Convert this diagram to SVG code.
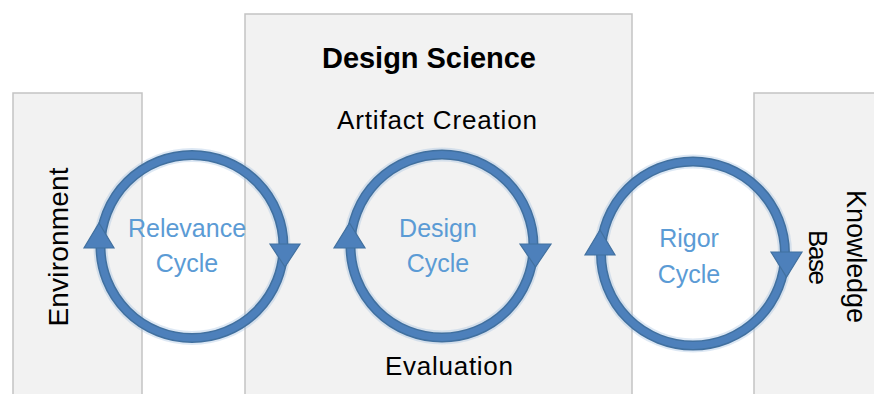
<svg xmlns="http://www.w3.org/2000/svg" width="874" height="394" viewBox="0 0 874 394">
<defs>
<style>
.panel{fill:#f2f2f2;stroke:#c3c3c3;stroke-width:1.5}
.ringo{fill:none;stroke:#41709f;stroke-width:10}
.ringi{fill:none;stroke:#4d80bb;stroke-width:7}
.glow{fill:none;stroke:#9dbde0;stroke-width:14;opacity:0.35}
.head{fill:#4d80bb;stroke:#41709f;stroke-width:1.2;stroke-linejoin:miter}
.lbl{font-family:"Liberation Sans",Arial,sans-serif;fill:#000}
.cyc{font-family:"Liberation Sans",Arial,sans-serif;fill:#5b9bd5;font-size:25px;text-anchor:middle}
</style>
</defs>
<g id="environment">
<rect class="panel" x="13" y="93" width="129" height="310"/>
<text class="lbl" font-size="28" text-anchor="middle" textLength="159" transform="translate(68,247) rotate(-90)">Environment</text>
</g>
<g id="design-science">
<rect class="panel" x="245" y="14" width="387" height="390"/>
<text class="lbl" font-size="29" font-weight="bold" text-anchor="middle" x="429" y="68" textLength="214">Design Science</text>
<text class="lbl" font-size="26" text-anchor="middle" x="437" y="129" textLength="200">Artifact Creation</text>
<text class="lbl" font-size="26" text-anchor="middle" x="449" y="375" textLength="128">Evaluation</text>
</g>
<g id="knowledge-base">
<rect class="panel" x="754" y="93" width="130" height="310"/>
<text class="lbl" font-size="27" text-anchor="middle" textLength="133" transform="translate(847,256.5) rotate(90)">Knowledge</text>
<text class="lbl" font-size="26" text-anchor="middle" textLength="55" transform="translate(809,257.5) rotate(90)">Base</text>
</g>
<g id="connectors">
<g id="relevance-cycle">
<circle class="glow" cx="192" cy="246.5" r="91.5"/>
<circle class="ringo" cx="192" cy="246.5" r="91.5"/>
<circle class="ringi" cx="192" cy="246.5" r="91.5"/>
<polygon class="head" points="99,223 114,248 84,248"/>
<polygon class="head" points="270,244 300,244 285,267"/>
</g>
<g id="design-cycle">
<circle class="glow" cx="442" cy="246" r="91.5"/>
<circle class="ringo" cx="442" cy="246" r="91.5"/>
<circle class="ringi" cx="442" cy="246" r="91.5"/>
<polygon class="head" points="349.5,223 365,248 334,248"/>
<polygon class="head" points="520,244 551,244 535.5,267"/>
</g>
<g id="rigor-cycle">
<circle class="glow" cx="693" cy="253.5" r="92"/>
<circle class="ringo" cx="693" cy="253.5" r="92"/>
<circle class="ringi" cx="693" cy="253.5" r="92"/>
<polygon class="head" points="600,230 615,255 585,255"/>
<polygon class="head" points="771,252 802,252 786.5,277"/>
</g>
</g>
<g id="cycle-labels">
<text class="cyc" x="187" y="237">Relevance</text>
<text class="cyc" x="187" y="272">Cycle</text>
<text class="cyc" x="438" y="237">Design</text>
<text class="cyc" x="438" y="272">Cycle</text>
<text class="cyc" x="689" y="247">Rigor</text>
<text class="cyc" x="689" y="283">Cycle</text>
</g>
</svg>
